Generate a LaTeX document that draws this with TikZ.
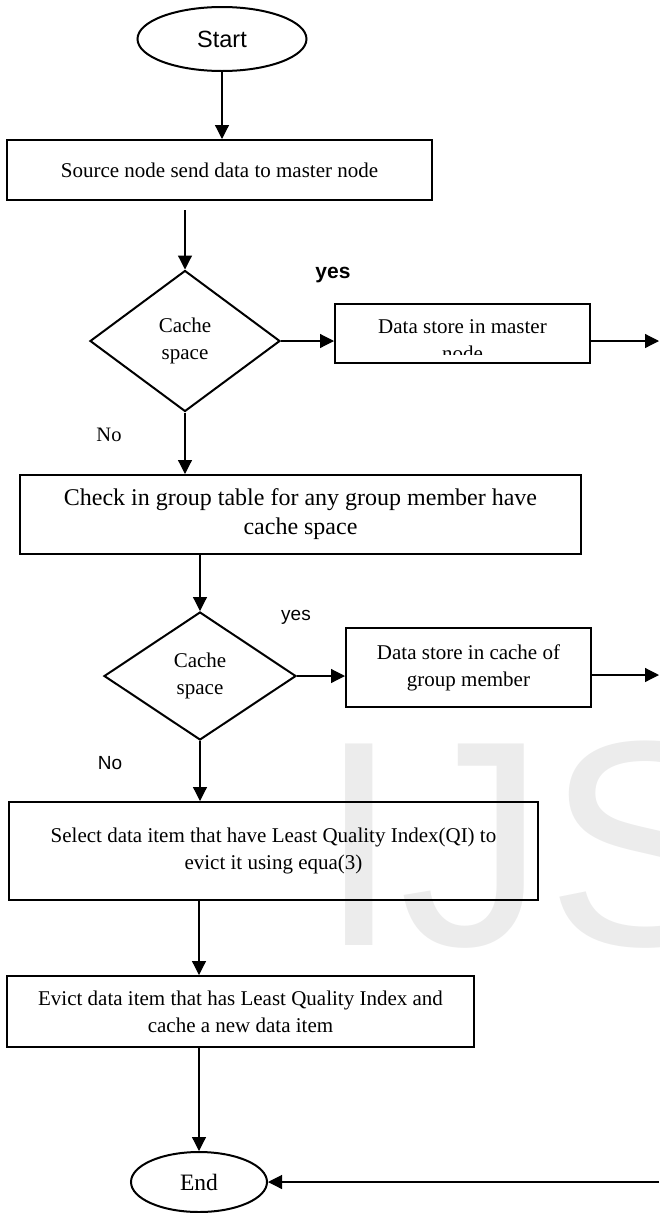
\documentclass[tikz,border=0pt]{standalone}
\usepackage{fontspec}
\setmainfont{Liberation Serif}
\setsansfont{Liberation Sans}
\usetikzlibrary{shapes.geometric, arrows.meta}

\begin{document}
\begin{tikzpicture}[x=1pt, y=-1pt,
    box/.style={draw, line width=2pt, align=center, font=\fontsize{21}{27}\selectfont},
    decision/.style={draw, diamond, line width=2pt, inner sep=0pt, align=center, font=\fontsize{21}{27}\selectfont},
    terminal/.style={draw, ellipse, line width=2pt, inner sep=0pt},
    flow/.style={-{Triangle[length=14pt, width=14pt]}, line width=1.2pt},
    tag/.style={inner sep=0pt}]
    \useasboundingbox (0,0) rectangle (659,1213);

    % Watermark
    \begin{scope}
        \clip (0,0) rectangle (659,1213);
        \node[anchor=base west, inner sep=0pt, text=gray!15, font=\sffamily\fontsize{293}{293}\selectfont] (mark) at (318,945) {IJS};
    \end{scope}

    % Terminals
    \node[terminal, minimum width=169pt, minimum height=64pt, font=\sffamily\fontsize{23.5}{28}\selectfont] (start) at (222,39) {Start};
    \node[terminal, minimum width=136pt, minimum height=60pt, font=\fontsize{23.5}{28}\selectfont] (end) at (199,1182) {End};

    % Process boxes
    \node[box, minimum width=425pt, minimum height=60pt] (source) at (219.5,170) {Source node send data to master node};
    \node[box, minimum width=255pt, minimum height=59pt] (store1) at (462.5,333.5) {};
    \node[box, minimum width=561pt, minimum height=79pt, font=\fontsize{24}{29}\selectfont] (check) at (300.5,514.5) {Check in group table for any group member have\\cache space};
    \node[box, minimum width=245pt, minimum height=79pt] (store2) at (468.5,667.5) {Data store in cache of\\group member};
    \node[box, minimum width=529pt, minimum height=98pt] (select) at (273.5,851) {Select data item that have Least Quality Index(QI) to\\evict it using equa(3)};
    \node[box, minimum width=467pt, minimum height=71pt] (evict) at (240.5,1011.5) {Evict data item that has Least Quality Index and\\cache a new data item};

    % Text of the first store box, cut by its lower edge
    \begin{scope}
        \clip ([yshift=10pt]store1.south west) rectangle (store1.north east);
        \node[anchor=north, inner sep=0pt, align=center, font=\fontsize{21}{27}\selectfont] (store1text) at ([yshift=-16pt]store1.north) {Data store in master\\node};
    \end{scope}

    % Decisions
    \node[decision, minimum width=190pt, minimum height=141pt] (cache1) at (185,341) {Cache\\space};
    \node[decision, minimum width=192pt, minimum height=128pt] (cache2) at (200,676) {Cache\\space};

    % Branch labels
    \node[tag, font=\sffamily\bfseries\fontsize{21}{25}\selectfont] (yes1) at (333,275) {yes};
    \node[tag, font=\fontsize{20.5}{25}\selectfont] (no1) at (109,435) {No};
    \node[tag, font=\sffamily\fontsize{19}{23}\selectfont] (yes2) at (296,617) {yes};
    \node[tag, font=\sffamily\fontsize{19}{23}\selectfont] (no2) at (110,763) {No};

    % Loose ends at the right edge
    \coordinate (out1) at (659,341);
    \coordinate (out2) at (659,675);
    \coordinate (back) at (659,1182);

    % Arrows
    \draw[flow] (start.south) -- (start.south |- source.north);
    \draw[flow, shorten <=9pt] (cache1.north |- source.south) -- (cache1.north);
    \draw[flow] (cache1.east) -- (cache1.east -| store1.west);
    \draw[flow] (store1.east |- out1) -- (out1);
    \draw[flow] (cache1.south) -- (cache1.south |- check.north);
    \draw[flow] (cache2.north |- check.south) -- (cache2.north);
    \draw[flow] (cache2.east) -- (cache2.east -| store2.west);
    \draw[flow] (store2.east |- out2) -- (out2);
    \draw[flow] (cache2.south) -- (cache2.south |- select.north);
    \draw[flow] (end |- select.south) -- (end |- evict.north);
    \draw[flow] (end |- evict.south) -- (end.north);
    \draw[flow] (back) -- (end.east);
\end{tikzpicture}
\end{document}
